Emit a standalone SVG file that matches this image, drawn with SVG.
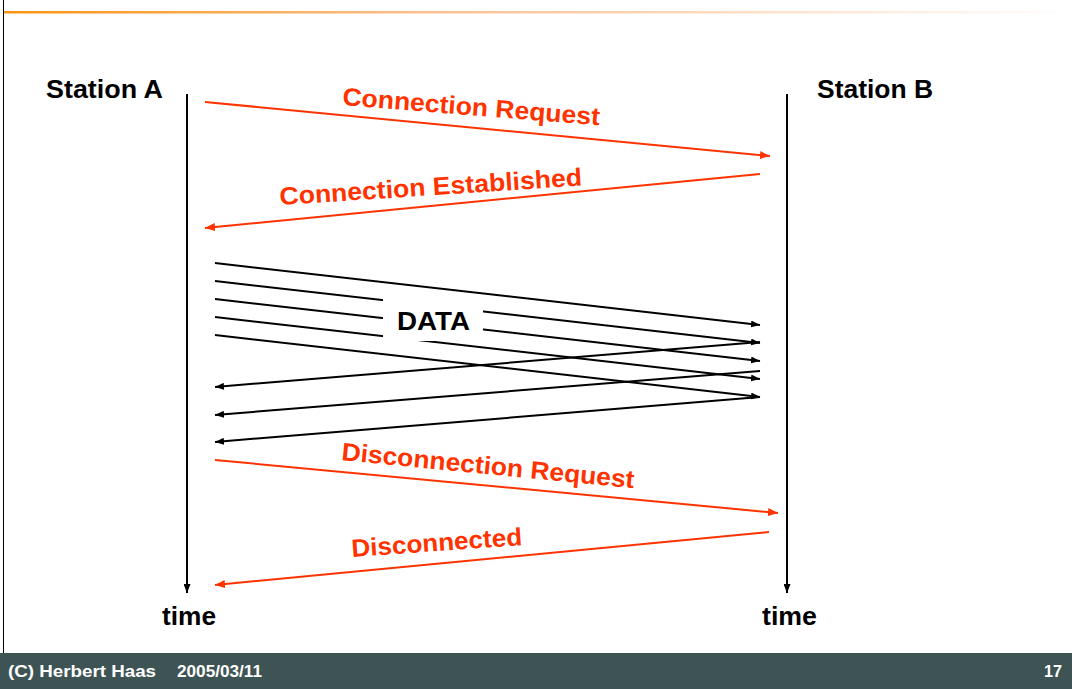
<svg xmlns="http://www.w3.org/2000/svg" width="1072" height="689" viewBox="0 0 1072 689">
  <style>
    .hdr { font-family: "Liberation Sans", Arial, sans-serif; font-weight: bold; font-size: 25px; fill: #000; }
    .msg { font-family: "Liberation Sans", Arial, sans-serif; font-weight: bold; font-size: 25px; fill: #ff3300; }
    .foot { font-family: "Liberation Sans", Arial, sans-serif; font-weight: bold; font-size: 16px; fill: #fff; }
    .life { stroke: #000; stroke-width: 2; fill: none; }
    .red { stroke: #ff3300; stroke-width: 2; fill: none; }
    .blk { stroke: #000; stroke-width: 2; fill: none; }
  </style>
  <defs>
    <linearGradient id="rule" x1="0" y1="0" x2="1" y2="0">
      <stop offset="0" stop-color="#ff9410"/>
      <stop offset="0.4" stop-color="#fcc090"/>
      <stop offset="1" stop-color="#ffffff"/>
    </linearGradient>
    <marker id="headRed" viewBox="0 0 10 8" refX="10" refY="4" markerWidth="10" markerHeight="8" markerUnits="userSpaceOnUse" orient="auto">
      <path d="M0,0 L10,4 L0,8 z" fill="#ff3300"/>
    </marker>
    <marker id="headBlk" viewBox="0 0 9 7" refX="9" refY="3.5" markerWidth="9" markerHeight="7" markerUnits="userSpaceOnUse" orient="auto">
      <path d="M0,0 L9,3.5 L0,7 z" fill="#000"/>
    </marker>
  </defs>

  <!-- slide frame -->
  <rect x="0" y="0" width="1072" height="689" fill="#fff"/>
  <line x1="3.5" y1="0" x2="3.5" y2="653" stroke="#000" stroke-width="1"/>
  <rect x="4" y="11" width="1068" height="2.5" fill="url(#rule)"/>

  <!-- lifelines -->
  <g id="station-a">
    <text class="hdr" x="46" y="98" textLength="117" lengthAdjust="spacingAndGlyphs">Station A</text>
    <line class="life" x1="187" y1="94" x2="187" y2="593" marker-end="url(#headBlk)"/>
    <text class="hdr" x="162" y="625" textLength="54" lengthAdjust="spacingAndGlyphs">time</text>
  </g>
  <g id="station-b">
    <text class="hdr" x="817" y="98" textLength="116" lengthAdjust="spacingAndGlyphs">Station B</text>
    <line class="life" x1="787" y1="94" x2="787" y2="593" marker-end="url(#headBlk)"/>
    <text class="hdr" x="762" y="625" textLength="55" lengthAdjust="spacingAndGlyphs">time</text>
  </g>

  <!-- message arrows -->
  <g id="connectors">
    <line class="red" x1="205" y1="102" x2="770" y2="156" marker-end="url(#headRed)"/>
    <line class="red" x1="760" y1="174" x2="205" y2="228" marker-end="url(#headRed)"/>

    <line class="blk" x1="215" y1="263" x2="760" y2="325" marker-end="url(#headBlk)"/>
    <line class="blk" x1="215" y1="281" x2="760" y2="343" marker-end="url(#headBlk)"/>
    <line class="blk" x1="215" y1="299" x2="760" y2="361" marker-end="url(#headBlk)"/>
    <line class="blk" x1="215" y1="317" x2="760" y2="379" marker-end="url(#headBlk)"/>
    <line class="blk" x1="215" y1="335" x2="760" y2="397" marker-end="url(#headBlk)"/>

    <line class="blk" x1="760" y1="342" x2="215" y2="387" marker-end="url(#headBlk)"/>
    <line class="blk" x1="760" y1="371" x2="215" y2="415" marker-end="url(#headBlk)"/>
    <line class="blk" x1="760" y1="397" x2="215" y2="442" marker-end="url(#headBlk)"/>

    <line class="red" x1="215" y1="460" x2="778" y2="513" marker-end="url(#headRed)"/>
    <line class="red" x1="769" y1="532" x2="215" y2="585" marker-end="url(#headRed)"/>
  </g>

  <!-- message labels -->
  <g id="labels">
    <text class="msg" x="342" y="105" transform="rotate(4.5 342 105)" textLength="258" lengthAdjust="spacingAndGlyphs">Connection Request</text>
    <text class="msg" x="280" y="205" transform="rotate(-3.7 280 205)" textLength="303" lengthAdjust="spacingAndGlyphs">Connection Established</text>
    <text class="msg" x="341" y="460" transform="rotate(5.5 341 460)" textLength="294" lengthAdjust="spacingAndGlyphs">Disconnection Request</text>
    <text class="msg" x="352" y="557" transform="rotate(-4 352 557)" textLength="171" lengthAdjust="spacingAndGlyphs">Disconnected</text>
  </g>

  <g id="data">
    <rect x="383" y="299" width="100" height="42" fill="#fff"/>
    <text class="hdr" x="397" y="330" textLength="73" lengthAdjust="spacingAndGlyphs">DATA</text>
  </g>

  <!-- footer bar -->
  <g id="footer">
    <rect x="0" y="653" width="1072" height="36" fill="#3e5454"/>
    <text class="foot" x="8" y="677" textLength="148" lengthAdjust="spacingAndGlyphs">(C) Herbert Haas</text>
    <text class="foot" x="177" y="677" textLength="85" lengthAdjust="spacingAndGlyphs">2005/03/11</text>
    <text class="foot" x="1044" y="677" textLength="18" lengthAdjust="spacingAndGlyphs">17</text>
  </g>
</svg>
